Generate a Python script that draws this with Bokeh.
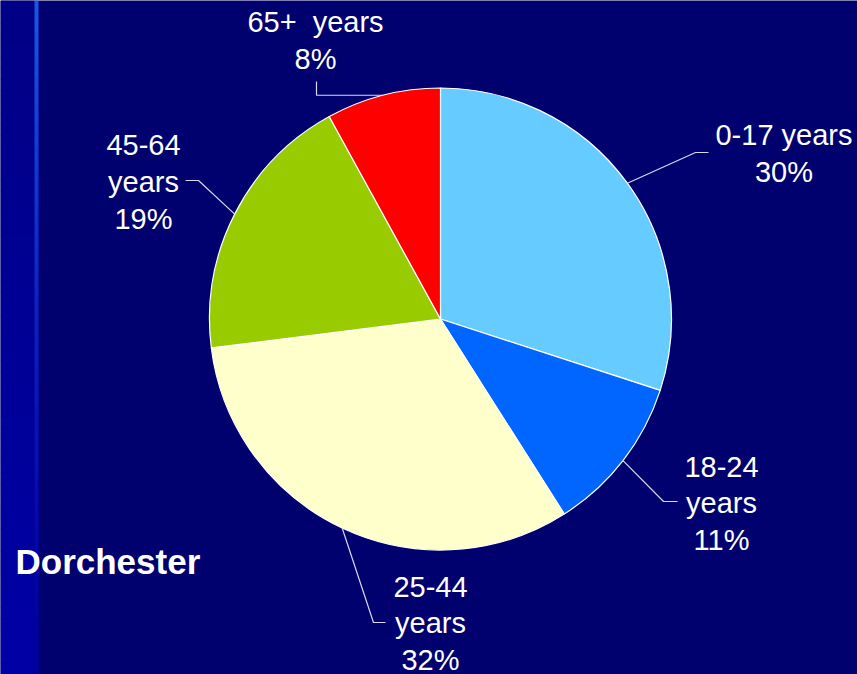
import math
from bokeh.plotting import figure
from bokeh.models import Range1d
from bokeh.core.properties import value
from bokeh.embed import file_html
from bokeh.resources import INLINE

# ---- data ----
categories = ["0-17 years", "18-24 years", "25-44 years", "45-64 years", "65+ years"]
shares = [30, 11, 32, 19, 8]
colors = ["#66CCFF", "#0066FF", "#FFFFCC", "#99CC00", "#FF0000"]
label_texts = [["0-17 years"], ["18-24", "years"], ["25-44", "years"], ["45-64", "years"], ["65+\u00a0 years"]]
title_text = "Dorchester"

# ---- layout (reference pixel coordinates, y from top) ----
W, H = 857, 674
NAVY = "#00006E"
cx_ref, cy_ref, R = 440, 318.5, 231
label_x = [783.5, 721, 430, 143, 315]
label_y0 = [134, 466, 586, 144, 21.5]
line_gap = [37.5, 36.5, 36.5, 37, 36.5]
elbows = [[(695, 152), (708, 152)], [(663, 501), (677, 501)], [(373, 622), (385, 622)],
          [(198, 180), (185, 180)], [(316, None), (316, 81)]]


def Y(y):
    return H - y


p = figure(width=W, height=H, x_range=Range1d(0, W), y_range=Range1d(0, H),
           output_backend="svg", toolbar_location=None, min_border=0,
           background_fill_color=NAVY, border_fill_color=NAVY)
p.axis.visible = False
p.grid.visible = False
p.outline_line_color = None

# left decorative strip with vertical gradient
n = 60
for i in range(n):
    t = i / (n - 1)
    y0, y1 = H * i / n, H * (i + 1) / n
    r_b = int(0x86 + (0xA6 - 0x86) * t)
    p.quad(left=0, right=34, top=Y(y0), bottom=Y(y1) - 0.5, fill_color="#0000%02X" % r_b, line_color=None)
    g = max(0, int(0x55 * (1 - t) ** 1.5))
    b = int(0xE6 - (0xE6 - 0xA6) * t)
    p.quad(left=34, right=38, top=Y(y0), bottom=Y(y1) - 0.5, fill_color="#%02X%02X%02X" % (g // 3, g, b), line_color=None)

# pie
total = sum(shares)
cum = 0
for cat, s, c in zip(categories, shares, colors):
    a0 = math.pi / 2 - 2 * math.pi * cum / total
    a1 = math.pi / 2 - 2 * math.pi * (cum + s) / total
    p.wedge(x=cx_ref, y=Y(cy_ref), radius=R, start_angle=a0, end_angle=a1, direction="clock",
            fill_color=c, line_color="white", line_width=1.2)
    cum += s

# leader lines and labels
cum = 0
for i, (s, lines) in enumerate(zip(shares, label_texts)):
    mid = 2 * math.pi * (cum + s / 2) / total
    cum += s
    px = cx_ref + R * math.sin(mid)
    py = cy_ref - R * math.cos(mid)
    (ex, ey), (fx, fy) = elbows[i]
    if ey is None:
        ey = py
    p.line(x=[px, ex, fx], y=[Y(py), Y(ey), Y(fy)], line_color="#D8D8EE", line_width=1.2)
    all_lines = lines + ["%d%%" % s]
    for k, t in enumerate(all_lines):
        p.text(x=[label_x[i]], y=[Y(label_y0[i] + k * line_gap[i])], text=[t],
               text_align="center", text_baseline="alphabetic",
               text_font=value("Liberation Sans"), text_font_size="29px", text_color="white")

p.text(x=[15], y=[Y(560.5)], text=[title_text], text_align="left", text_baseline="alphabetic",
       text_font=value("Liberation Sans"), text_font_style="bold", text_font_size="35px",
       text_color="white")

open("out.html", "w").write(file_html(p, INLINE))
